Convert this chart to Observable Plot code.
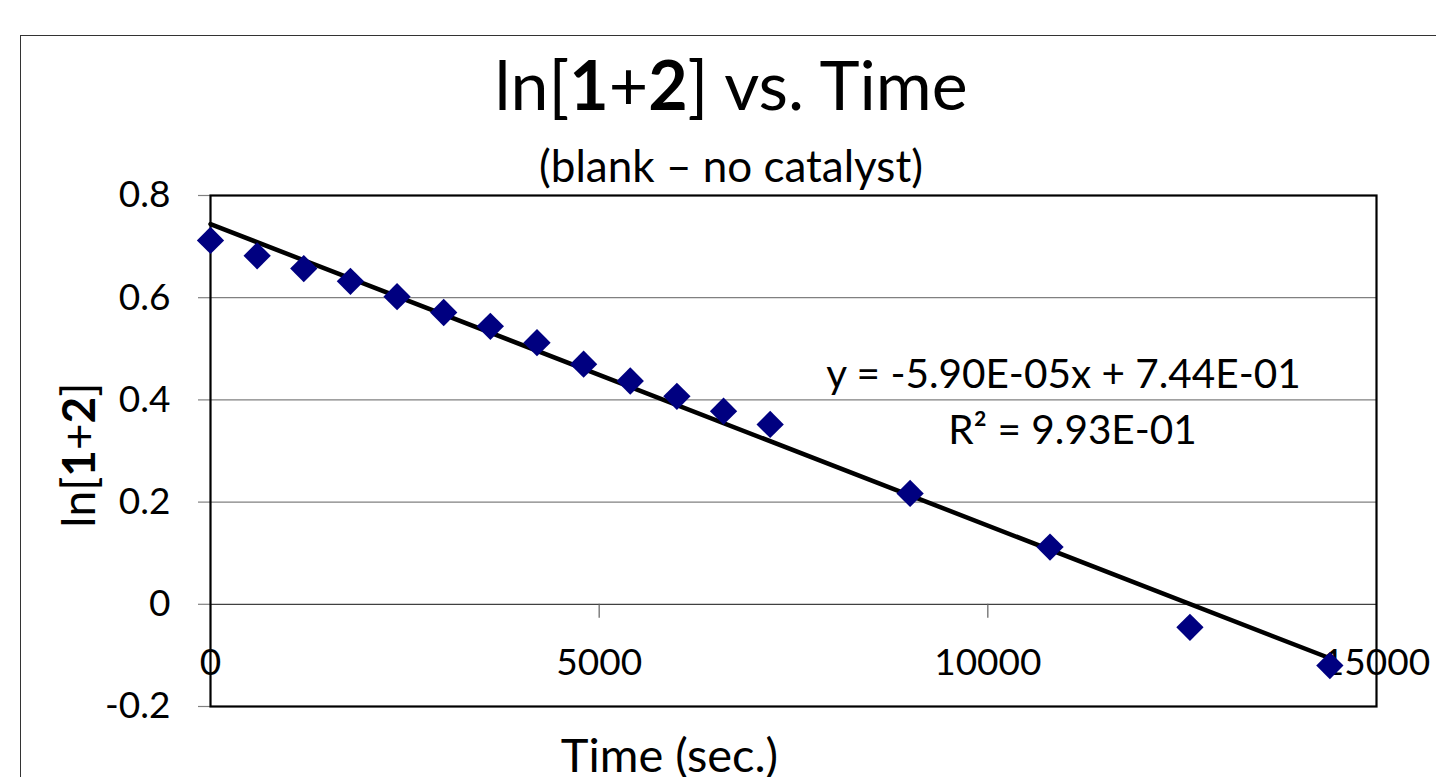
<!DOCTYPE html>
<html><head><meta charset="utf-8">
<script src="https://cdn.jsdelivr.net/npm/d3@7"></script>
<script src="https://cdn.jsdelivr.net/npm/@observablehq/plot@0.6"></script>
<style>
html,body{margin:0;padding:0;background:#fff;overflow:hidden;width:1436px;height:777px}
body{font-family:Lato,"Liberation Sans",sans-serif;color:#000;position:relative}
#frame{position:absolute;left:20px;top:35px;width:1500px;height:800px;border:1.5px solid #333;box-sizing:border-box}
#title{position:absolute;left:0;width:1462px;top:50px;text-align:center;font-size:68px;line-height:1;white-space:nowrap}
#subtitle{position:absolute;left:0;width:1462px;top:143px;text-align:center;font-size:44px;line-height:1;white-space:nowrap}
#ylabel{position:absolute;left:78px;top:455px;font-size:46px;line-height:1;white-space:nowrap;transform:translate(-50%,-50%) rotate(-90deg)}
#chart{position:absolute;left:0;top:0}
</style></head>
<body>
<div id="frame"></div>
<div id="title">ln[<b>1</b>+<b>2</b>] vs. Time</div>
<div id="subtitle">(blank – no catalyst)</div>
<div id="chart"></div>
<div id="ylabel">ln[<b>1</b>+<b>2</b>]</div>
<script>
// Data
const times = [0, 600, 1200, 1800, 2400, 3000, 3600, 4200, 4800, 5400, 6000, 6600, 7200, 9000, 10800, 12600, 14400];
const lnValues = [0.712, 0.682, 0.657, 0.632, 0.602, 0.571, 0.544, 0.512, 0.470, 0.437, 0.407, 0.378, 0.352, 0.217, 0.112, -0.045, -0.120];
// Trend line (as shown in the chart)
const slope = -5.90e-5;
const intercept = 0.744;
const equationText = "y = -5.90E-05x + 7.44E-01";
const r2Text = "R² = 9.93E-01";
// Axis ticks and labels
const yTicks = [0.8, 0.6, 0.4, 0.2, 0, -0.2];
const yTickLabels = ["0.8", "0.6", "0.4", "0.2", "0", "-0.2"];
const xTicks = [0, 5000, 10000, 15000];
const xTickLabels = ["0", "5000", "10000", "15000"];
const xLabel = "Time (sec.)";

const points = times.map((t, i) => ({t, v: lnValues[i]}));
const xExt = d3.extent(times);
const trend = xExt.map(t => ({t, v: slope * t + intercept}));
const yTickData = yTicks.map((v, i) => ({v, label: yTickLabels[i]}));
const xTickData = xTicks.map((v, i) => ({v, label: xTickLabels[i]}));
const gridLines = yTicks.filter(v => v !== 0 && v !== d3.max(yTicks) && v !== d3.min(yTicks));
const xInnerTicks = xTicks.filter(v => v !== d3.min(xTicks) && v !== d3.max(xTicks));

const font = "Lato, 'Liberation Sans', sans-serif";
const chart = Plot.plot({
  width: 1436,
  height: 777,
  marginTop: 195,
  marginBottom: 71,
  marginLeft: 210,
  marginRight: 60,
  style: {fontFamily: font, background: "transparent", overflow: "visible"},
  x: {domain: [0, 15000], axis: null},
  y: {domain: [-0.2, 0.8], axis: null},
  marks: [
    Plot.ruleY(gridLines, {stroke: "#808080", strokeWidth: 1.2}),
    Plot.ruleY(yTickData, {y: "v", x1: 0, x2: 0, insetLeft: -12, stroke: "#808080", strokeWidth: 1.2}),
    Plot.ruleY([0], {stroke: "#404040", strokeWidth: 1.2}),
    Plot.ruleX(xInnerTicks, {y1: 0, y2: 0, insetBottom: -14, stroke: "#606060", strokeWidth: 1.2}),
    Plot.frame({stroke: "#000", strokeWidth: 2.2}),
    Plot.text(yTickData, {x: 0, y: "v", text: "label", textAnchor: "end", dx: -40, fontSize: 37, fill: "#000"}),
    Plot.text(xTickData, {x: "v", y: 0, text: "label", dy: 59, fontSize: 37, fill: "#000"}),
    Plot.line(trend, {x: "t", y: "v", stroke: "#000", strokeWidth: 4.5}),
    Plot.dot(points, {x: "t", y: "v", symbol: "diamond2", r: 12.3, fill: "#000080", stroke: "none"}),
    Plot.text([equationText], {frameAnchor: "top-left", textAnchor: "middle", lineAnchor: "middle", dx: 853, dy: 180, fontSize: 40.5, fill: "#000"}),
    Plot.text([r2Text], {frameAnchor: "top-left", textAnchor: "middle", lineAnchor: "middle", dx: 862, dy: 236, fontSize: 40.5, fill: "#000"}),
    Plot.text([xLabel], {frameAnchor: "bottom-left", textAnchor: "middle", lineAnchor: "middle", dx: 459, dy: 50, fontSize: 47, fill: "#000"})
  ]
});
document.getElementById("chart").appendChild(chart);
</script>
</body></html>
